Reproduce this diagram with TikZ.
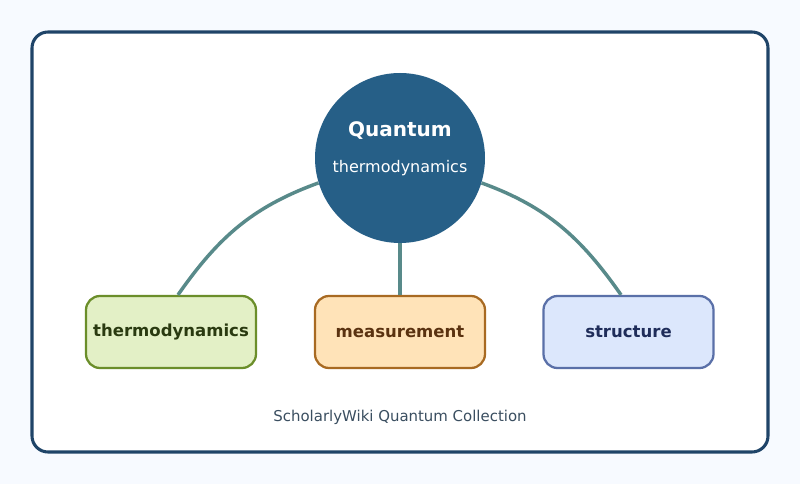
\documentclass[tikz,border=0pt]{standalone}
\usepackage{fontspec}
\setmainfont{DejaVu Sans}
\definecolor{bg}{HTML}{F7FAFF}
\definecolor{frame}{HTML}{1F4468}
\definecolor{hub}{HTML}{265F87}
\definecolor{link}{HTML}{588A8A}
\definecolor{gfill}{HTML}{E3F0C6}\definecolor{gdraw}{HTML}{6B8E2A}\definecolor{gtext}{HTML}{2A3A10}
\definecolor{ofill}{HTML}{FFE3B8}\definecolor{odraw}{HTML}{A86A22}\definecolor{otext}{HTML}{5A3210}
\definecolor{bfill}{HTML}{DCE7FC}\definecolor{bdraw}{HTML}{5A70A8}\definecolor{btext}{HTML}{1F2D5A}
\definecolor{foot}{HTML}{3A4E60}
\begin{document}
\begin{tikzpicture}[x=0.75pt,y=-0.75pt,
  leaf/.style={rounded corners=10.5pt,line width=1.7pt,minimum width=127.5pt,minimum height=54pt,inner sep=0pt,font=\fontsize{12.4}{14}\selectfont\bfseries},
  conn/.style={link,line width=2.6pt}]
\fill[bg] (0,0) rectangle (800,484);
\useasboundingbox (0,0) rectangle (800,484);
\draw[frame,fill=white,line width=2.3pt,rounded corners=12pt] (32,32) rectangle (768,452);
\node[circle,fill=hub,minimum size=127.5pt,inner sep=0pt] (c) at (400,158) {};
\node[white,font=\fontsize{15}{18}\selectfont\bfseries] (t1) at (400,131) {Quantum};
\node[white,font=\fontsize{12}{14}\selectfont] (t2) at (400,168) {thermodynamics};
\node[leaf,fill=gfill,draw=gdraw,text=gtext] (a) at (171,332) {thermodynamics};
\node[leaf,fill=ofill,draw=odraw,text=otext] (b) at (400,332) {measurement};
\node[leaf,fill=bfill,draw=bdraw,text=btext] (d) at (628.5,332) {structure};
\draw[conn] (c.197) to[out=200,in=55] ([xshift=5.25pt]a.north);
\draw[conn] (c.south) -- (b.north);
\draw[conn] (c.343) to[out=-20,in=125] ([xshift=-5.6pt]d.north);
\node[foot,font=\fontsize{11.2}{13}\selectfont] (f) at (400,417) {ScholarlyWiki Quantum Collection};
\end{tikzpicture}
\end{document}
